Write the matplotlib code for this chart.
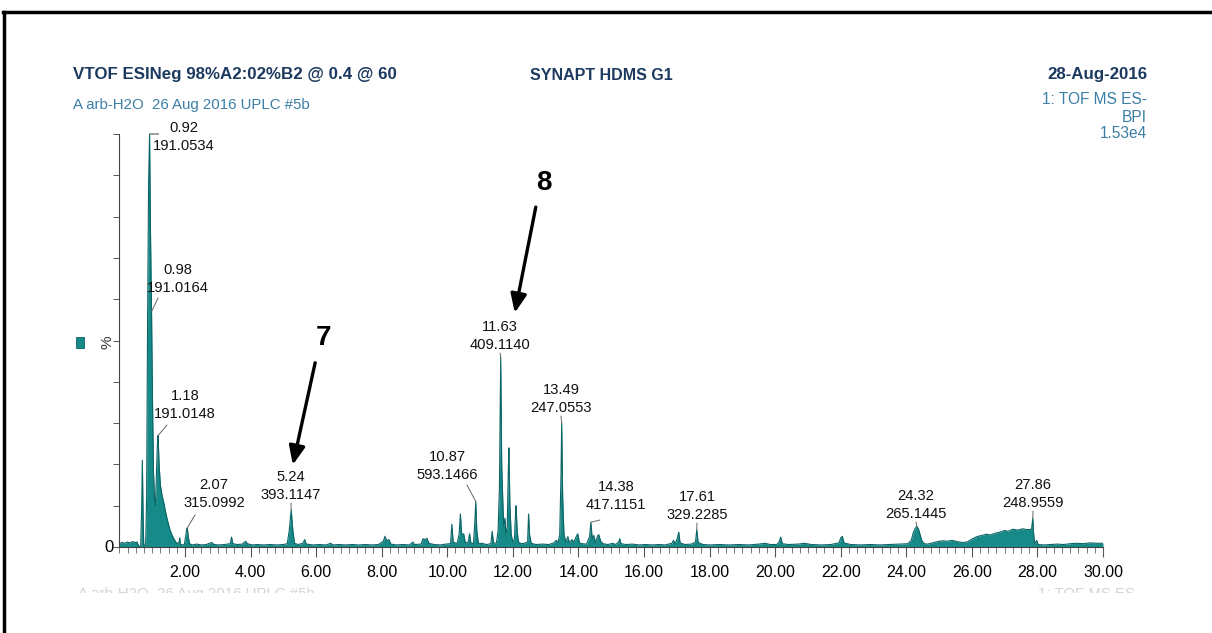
import numpy as np
import matplotlib
matplotlib.use("Agg")
import matplotlib.pyplot as plt
from matplotlib.lines import Line2D
from matplotlib.patches import Rectangle

# base peak intensity trace, retention time (min) vs relative intensity (%)
rt = [0.00, 0.08, 0.16, 0.24, 0.32, 0.40, 0.48, 0.54, 0.58, 0.62, 0.65, 0.68, 0.70, 0.72, 0.74, 0.76,
      0.80, 0.83, 0.86, 0.89, 0.92, 0.95, 0.98, 1.01, 1.04, 1.07, 1.10, 1.13, 1.16, 1.18, 1.21, 1.25,
      1.30, 1.36, 1.42, 1.48, 1.54, 1.60, 1.66, 1.72, 1.78, 1.82, 1.84, 1.86, 1.92, 1.98, 2.02, 2.05,
      2.07, 2.10, 2.14, 2.22, 2.35, 2.50, 2.65, 2.82, 2.88, 3.05, 3.20, 3.38, 3.42, 3.46, 3.60, 3.75,
      3.85, 3.90, 4.05, 4.20, 4.40, 4.60, 4.80, 5.00, 5.12, 5.18, 5.24, 5.29, 5.34, 5.45, 5.60, 5.65,
      5.70, 5.90, 6.10, 6.30, 6.45, 6.50, 6.70, 6.90, 7.10, 7.30, 7.50, 7.70, 7.90, 8.05, 8.10, 8.15,
      8.22, 8.28, 8.45, 8.65, 8.85, 8.95, 9.00, 9.20, 9.26, 9.32, 9.38, 9.44, 9.60, 9.80, 9.95, 10.10,
      10.14, 10.18, 10.30, 10.36, 10.40, 10.44, 10.50, 10.55, 10.64, 10.68, 10.72, 10.80, 10.84, 10.87,
      10.90, 10.95, 11.05, 11.20, 11.33, 11.37, 11.41, 11.50, 11.55, 11.59, 11.63, 11.66, 11.69, 11.72,
      11.76, 11.79, 11.83, 11.86, 11.88, 11.91, 11.95, 12.00, 12.05, 12.08, 12.10, 12.13, 12.17, 12.25,
      12.35, 12.45, 12.48, 12.51, 12.56, 12.70, 12.90, 13.10, 13.25, 13.32, 13.38, 13.43, 13.47, 13.49,
      13.52, 13.56, 13.62, 13.68, 13.72, 13.80, 13.86, 13.92, 13.98, 14.03, 14.12, 14.25, 14.34, 14.38,
      14.42, 14.47, 14.52, 14.58, 14.62, 14.68, 14.75, 14.90, 15.05, 15.12, 15.22, 15.26, 15.30, 15.45,
      15.65, 15.85, 16.05, 16.25, 16.45, 16.65, 16.85, 16.90, 16.95, 17.02, 17.06, 17.10, 17.25, 17.45,
      17.57, 17.61, 17.65, 17.80, 18.00, 18.30, 18.60, 18.90, 19.20, 19.50, 19.70, 19.85, 20.05, 20.12,
      20.17, 20.22, 20.40, 20.70, 20.90, 21.10, 21.40, 21.70, 21.95, 22.00, 22.05, 22.10, 22.30, 22.60,
      22.90, 23.20, 23.50, 23.80, 24.05, 24.15, 24.22, 24.28, 24.32, 24.37, 24.42, 24.48, 24.55, 24.65,
      24.80, 24.95, 25.10, 25.25, 25.40, 25.55, 25.70, 25.85, 26.00, 26.15, 26.30, 26.45, 26.55, 26.70,
      26.85, 27.00, 27.10, 27.25, 27.40, 27.55, 27.70, 27.82, 27.86, 27.88, 27.92, 27.98, 28.02, 28.20,
      28.40, 28.60, 28.80, 29.00, 29.20, 29.40, 29.60, 29.80, 30.00]
intensity = [0.8, 1.1, 0.9, 1.2, 1.0, 1.3, 1.1, 1.2, 0.4, 0.0, 0.3, 10, 21, 9, 1.0, 0.2,
             0.5, 12, 55, 88, 100, 75, 57, 35, 18, 12, 10, 18, 25, 27, 20, 15,
             12.5, 10.5, 8, 6, 4.2, 3, 2, 1.2, 0.8, 1.2, 2.2, 0.7, 0.5, 0.6, 2.5, 4.2,
             4.6, 2.5, 0.8, 0.5, 0.7, 0.5, 0.6, 1.1, 0.6, 0.5, 0.6, 0.8, 2.4, 0.8, 0.6, 0.7,
             1.4, 0.8, 0.5, 0.6, 0.5, 0.6, 0.5, 0.6, 0.8, 4, 9, 4, 0.9, 0.6, 0.9, 1.8,
             0.7, 0.5, 0.6, 0.5, 0.9, 0.5, 0.6, 0.5, 0.6, 0.5, 0.6, 0.5, 0.6, 1.4, 2.6, 1.5,
             1.8, 0.7, 0.5, 0.6, 0.5, 1.2, 0.6, 0.7, 2.0, 1.8, 2.1, 0.9, 0.6, 0.5, 0.7, 0.8,
             5.5, 1.2, 0.8, 3, 8, 3, 3.2, 1.0, 1.2, 3.2, 1.0, 0.8, 6, 11,
             4, 0.8, 0.9, 0.6, 0.8, 3.8, 0.9, 1.0, 4, 14, 46, 20, 12, 5,
             7, 3, 5, 18, 24, 10, 3, 1.2, 2, 8, 10, 4, 1.2, 0.8,
             0.9, 1.2, 8, 3, 0.9, 0.6, 0.7, 0.6, 1.0, 1.6, 1.2, 3, 18, 30,
             12, 3, 1.2, 2.5, 1.0, 1.8, 1.2, 2.3, 3.2, 1.0, 0.8, 0.7, 2.5, 6,
             2, 2.8, 1.0, 2.6, 3, 1.4, 0.8, 0.6, 0.9, 0.6, 1.1, 2, 0.8, 0.6,
             0.7, 0.5, 0.6, 0.5, 0.6, 0.5, 0.9, 1.6, 0.8, 2.2, 3.6, 1.0, 0.6, 0.7,
             1.2, 4.2, 1.1, 0.6, 0.5, 0.6, 0.5, 0.6, 0.5, 0.7, 0.9, 0.6, 0.6, 1.2,
             2.4, 0.8, 0.6, 0.7, 0.9, 0.6, 0.5, 0.6, 1.0, 2.2, 2.6, 1.0, 0.6, 0.5,
             0.6, 0.5, 0.6, 0.7, 0.8, 1.6, 3.6, 4.6, 5.0, 4.4, 3.0, 1.4, 0.8, 0.7,
             1.0, 1.3, 1.5, 1.4, 1.6, 1.3, 1.1, 1.2, 1.9, 2.5, 2.8, 3.1, 2.9, 3.3,
             3.6, 4.0, 3.8, 4.3, 4.1, 4.4, 4.2, 4.3, 7.0, 3.5, 0.8, 1.6, 0.6, 0.5,
             0.6, 0.7, 0.6, 0.8, 0.9, 0.8, 1.0, 0.9, 0.9]

# labelled peaks: retention time and m/z
peak_rt = ["0.92", "0.98", "1.18", "2.07", "5.24", "10.87", "11.63", "13.49", "14.38", "17.61", "24.32", "27.86"]
peak_mz = ["191.0534", "191.0164", "191.0148", "315.0992", "393.1147", "593.1466", "409.1140",
           "247.0553", "417.1151", "329.2285", "265.1445", "248.9559"]

# compound numbers and the peaks they point to
compound_no = ["7", "8"]
compound_rt = [5.24, 11.63]

W, H = 1212, 633
FONT = ["Liberation Sans", "DejaVu Sans"]
TEAL = "#168a88"
TEAL_DARK = "#0c6465"
NAVY = "#1c3a60"
BLUE = "#3b7fa6"

fig = plt.figure(figsize=(W / 100, H / 100), dpi=100)
ax = fig.add_axes([119.4 / W, 1 - 547 / H, (1103 - 119.4) / W, (547 - 134) / H])

ax.fill_between(rt, intensity, 0, color=TEAL, lw=0)
ax.plot(rt, intensity, color=TEAL_DARK, lw=0.8)

ax.set_xlim(0, 30)
ax.set_ylim(0, 100)
for s in ["top", "right"]:
    ax.spines[s].set_visible(False)
ax.spines["left"].set_color("#444444")
ax.spines["bottom"].set_color("#444444")
ax.spines["left"].set_linewidth(0.8)
ax.spines["bottom"].set_linewidth(0.8)

ax.set_xticks(np.arange(2, 31, 2))
ax.set_xticklabels(["%.2f" % v for v in np.arange(2, 31, 2)], family=FONT, fontsize=11.5)
ax.set_xticks(np.arange(0, 30.01, 0.25), minor=True)
ax.tick_params(axis="x", which="major", length=7, width=0.8, color="#555555", pad=6)
ax.tick_params(axis="x", which="minor", length=4, width=0.7, color="#777777")
ax.set_yticks(np.arange(0, 101, 10))
ax.set_yticklabels([])
ax.tick_params(axis="y", length=4, width=0.7, color="#555555")

# y axis decorations
fig.text(109 / W, 1 - 548 / H, "0", family=FONT, fontsize=12, ha="center", va="center")
fig.text(108 / W, 1 - 342 / H, "%", family=FONT, fontsize=11, ha="center", va="center",
         rotation=90, color="#333333")
fig.add_artist(Rectangle((76 / W, 1 - 348 / H), 8 / W, 11 / H, transform=fig.transFigure,
                         facecolor=TEAL, edgecolor=TEAL_DARK, lw=0.6))

# peak labels (text centres in figure pixels)
label_pos = [(184, 137), (178, 279), (185, 405), (214, 494), (291, 486), (447, 466),
             (500, 336), (561, 399), (616, 496), (697, 506), (916, 505), (1033, 494)]
# start of the slanted leader lines; None means a vertical leader from the text
leader_from = [None, (158, 298), (167, 425), (195, 515), None, (467, 485),
               None, None, (600, 520), None, None, None]

for t, mz, (px, py), lf in zip(peak_rt, peak_mz, label_pos, leader_from):
    x = float(t)
    h = np.interp(x, rt, intensity)
    fig.text(px / W, 1 - py / H, t + "\n" + mz, family=FONT, fontsize=10.6,
             ha="center", va="center", linespacing=1.45, color="#111111")
    if t == "0.92":
        ax.annotate("", xy=(x, h), xytext=(9, 0), textcoords="offset pixels",
                    arrowprops=dict(arrowstyle="-", color="#555555", lw=0.8,
                                    shrinkA=0, shrinkB=0), annotation_clip=False)
        continue
    start = lf if lf is not None else (px, py + 17)
    ax.annotate("", xy=(x, h), xytext=(start[0], H - start[1]), textcoords="figure pixels",
                arrowprops=dict(arrowstyle="-", color="#666666", lw=0.7,
                                shrinkA=0, shrinkB=0), annotation_clip=False)

# compound arrows
arrow_tail = [(5.97, 44.6), (12.70, 82.3)]
arrow_tip = [(5.29, 19.9), (12.06, 56.7)]
num_pos = [(6.24, 50.6), (12.95, 88.1)]
for n, tail, tip, npos in zip(compound_no, arrow_tail, arrow_tip, num_pos):
    ax.annotate("", xy=tip, xytext=tail,
                arrowprops=dict(arrowstyle="-|>,head_width=0.3,head_length=0.7", color="black",
                                lw=2.4, mutation_scale=16, shrinkA=0, shrinkB=0))
    ax.text(npos[0], npos[1], n, fontsize=20, fontweight="bold", ha="center", va="center",
            family=FONT)

# header
fig.text(73 / W, 1 - 75 / H, "VTOF ESINeg 98%A2:02%B2 @ 0.4 @ 60", family=FONT,
         fontsize=12.2, fontweight="bold", color=NAVY, ha="left", va="center")
fig.text(73 / W, 1 - 105 / H, "A arb-H2O  26 Aug 2016 UPLC #5b", family=FONT,
         fontsize=10.8, color=BLUE, ha="left", va="center")
fig.text(601 / W, 1 - 75 / H, "SYNAPT HDMS G1", family=FONT, fontsize=11.5,
         fontweight="bold", color=NAVY, ha="center", va="center")
fig.text(1147 / W, 1 - 74 / H, "28-Aug-2016", family=FONT, fontsize=12.2,
         fontweight="bold", color=NAVY, ha="right", va="center")
for s, y in zip(["1: TOF MS ES-", "BPI", "1.53e4"], [100, 118, 134]):
    fig.text(1147 / W, 1 - y / H, s, family=FONT, fontsize=11.2, color=BLUE,
             ha="right", va="center")

# header of the next trace, cut off at the bottom of the panel
clip = Rectangle((0, 1 - 593 / H), 1, 0.2, transform=fig.transFigure, visible=False)
fig.add_artist(clip)
for s, x, ha in [("A arb-H2O  26 Aug 2016 UPLC #5b", 78 / W, "left"),
                 ("1: TOF MS ES-", 1140 / W, "right")]:
    t = fig.text(x, 1 - 594 / H, s, family=FONT, fontsize=10.8, color="#d4d4d4",
                 ha=ha, va="center")
    t.set_clip_path(clip)

# panel frame
fig.add_artist(Line2D([3 / W, 1], [1 - 12 / H] * 2, transform=fig.transFigure, color="black", lw=2.5))
fig.add_artist(Line2D([4 / W] * 2, [0, 1 - 12 / H], transform=fig.transFigure, color="black", lw=2.5))

fig.savefig("out.png", dpi=100)
